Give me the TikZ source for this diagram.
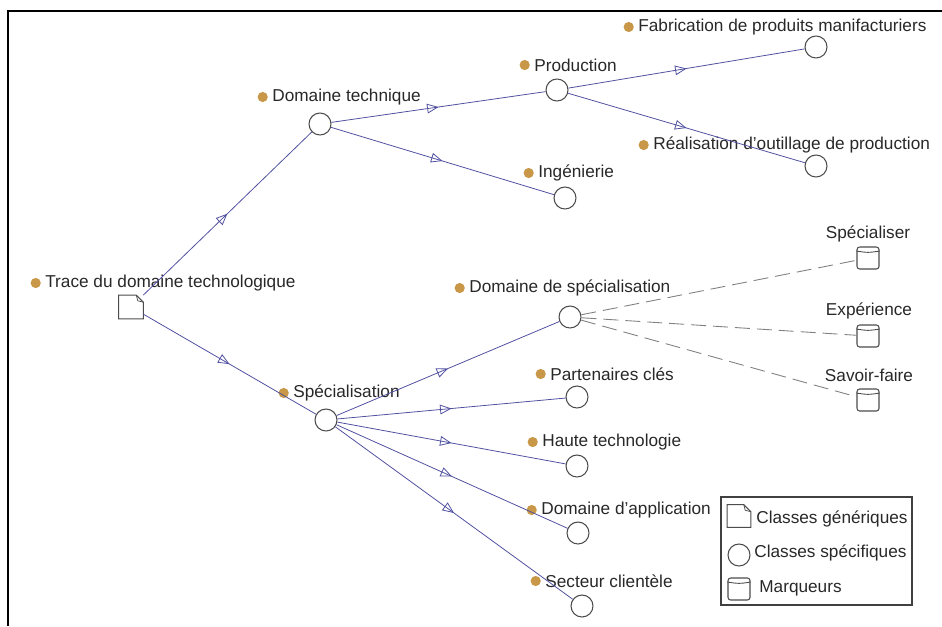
\documentclass[tikz,border=0pt]{standalone}
\usepackage{fontspec}
\setmainfont{Liberation Sans}
\usetikzlibrary{arrows.meta,decorations.markings,shapes.geometric}
\definecolor{dotbrown}{RGB}{200,152,72}
\definecolor{linkblue}{RGB}{80,80,160}
\definecolor{txtgrey}{RGB}{40,40,40}
\def\docfold(#1){\draw[black!70, line width=0.6pt] (#1.south west) -- (#1.south east) -- ([yshift=-4pt]#1.north east) -- ([xshift=-4pt]#1.north east) -- (#1.north west) -- cycle;
	\draw[black!70, line width=0.4pt] ([xshift=-4pt]#1.north east) -- ([xshift=-3.2pt,yshift=-3.2pt]#1.north east) -- ([yshift=-4pt]#1.north east);}
\def\mrkband(#1){\draw[black!70, line width=0.5pt] ([yshift=-2.6pt]#1.north west) .. controls ([yshift=-3.6pt]#1.north) .. ([yshift=-2.6pt]#1.north east);}
\tikzset{
	cls/.style={circle, draw=black!70, line width=0.6pt, minimum size=0.44cm, inner sep=0pt},
	mrk/.style={rectangle, rounded corners=1.5pt, draw=black!70, line width=0.6pt, minimum width=0.44cm, minimum height=0.44cm, inner sep=0pt},
	gen/.style={rectangle, minimum width=0.48cm, minimum height=0.46cm, inner sep=0pt},
	txt/.style={text=txtgrey, font=\fontsize{9.8}{12}\selectfont, inner sep=0pt},
	lbl/.style={txt, anchor=west, label={[circle, fill=dotbrown, inner sep=0pt, minimum size=5.8pt, xshift=-2.2pt]left:{}}},
	link/.style={draw=linkblue, line width=0.45pt, postaction={decorate}, decoration={markings, mark=at position 0.5 with {\arrow{Triangle[open, length=6.5pt, width=5.5pt]}}}},
	tag/.style={draw=black!50, line width=0.5pt, dash pattern=on 8.5pt off 4pt}
}
\begin{document}
\begin{tikzpicture}[x=0.02cm, y=-0.02cm]
		%%%%% START %%%%%
		\useasboundingbox (0,0) rectangle (942,626);
		\draw[line width=0.7pt] (8,626) -- (8,11) -- (942,11);
		
		% classes
		\node[gen] (trace) at (131,307) {};
		\docfold(trace)
		\node[cls] (dtech) at (320,124) {};
		\node[cls] (prod) at (557,90) {};
		\node[cls] (fab) at (816,47) {};
		\node[cls] (real) at (816,166) {};
		\node[cls] (ing) at (565,198) {};
		\node[cls] (spec) at (326,420) {};
		\node[cls] (dspec) at (570,317) {};
		\node[cls] (part) at (577,397) {};
		\node[cls] (haute) at (577,466) {};
		\node[cls] (dapp) at (578,533) {};
		\node[cls] (sect) at (582,606) {};
		
		% marqueurs
		\node[mrk] (mspec) at (868,258) {};
		\mrkband(mspec)
		\node[mrk] (mexp) at (868,336) {};
		\mrkband(mexp)
		\node[mrk] (msav) at (868,400) {};
		\mrkband(msav)
		
		% labels
		\node[lbl] (ltrace) at (45,283) {Trace du domaine technologique};
		\node[lbl] (ldtech) at (272,97) {Domaine technique};
		\node[lbl] (lprod) at (534,65) {Production};
		\node[lbl] (lfab) at (638,27) {Fabrication de produits manifacturiers};
		\node[lbl] (lreal) at (653,145) {Réalisation d'outillage de production};
		\node[lbl] (ling) at (538,173) {Ingénierie};
		\node[lbl] (ldspec) at (469,288) {Domaine de spécialisation};
		\node[lbl] (lspec) at (293,393) {Spécialisation};
		\node[lbl] (lpart) at (550,374) {Partenaires clés};
		\node[lbl] (lhaute) at (542,442) {Haute technologie};
		\node[lbl] (ldapp) at (541,510) {Domaine d'application};
		\node[lbl] (lsect) at (545,581) {Secteur clientèle};
		\node[txt] (lmspec) at (868,234) {Spécialiser};
		\node[txt] (lmexp) at (869,311) {Expérience};
		\node[txt] (lmsav) at (869,375) {Savoir-faire};
		
		% liens
		\draw[link] (trace) -- (dtech);
		\draw[link] (trace) -- (spec);
		\draw[link] (dtech) -- (prod);
		\draw[link] (dtech) -- (ing);
		\draw[link] (prod) -- (fab);
		\draw[link] (prod) -- (real);
		\draw[link] (spec) -- (dspec);
		\draw[link] (spec) -- (part);
		\draw[link] (spec) -- (haute);
		\draw[link] (spec) -- (dapp);
		\draw[link] (spec) -- (sect);
		\draw[tag] (dspec) -- (mspec);
		\draw[tag] (dspec) -- (mexp);
		\draw[tag] (dspec) -- (msav);
		
		% legende
		\draw[black!75, line width=0.6pt] (721,497) rectangle (912,605);
		\node[gen, minimum width=0.46cm, minimum height=0.44cm] (lggen) at (739,516) {};
		\docfold(lggen)
		\node[cls] (lgcls) at (739,555) {};
		\node[mrk] (lgmrk) at (739,589) {};
		\mrkband(lgmrk)
		\node[txt, anchor=west] (tgen) at (756,519) {Classes génériques};
		\node[txt, anchor=west] (tcls) at (754,553) {Classes spécifiques};
		\node[txt, anchor=west] (tmrk) at (759,588) {Marqueurs};
		%%%%% END %%%%%
\end{tikzpicture}
\end{document}
